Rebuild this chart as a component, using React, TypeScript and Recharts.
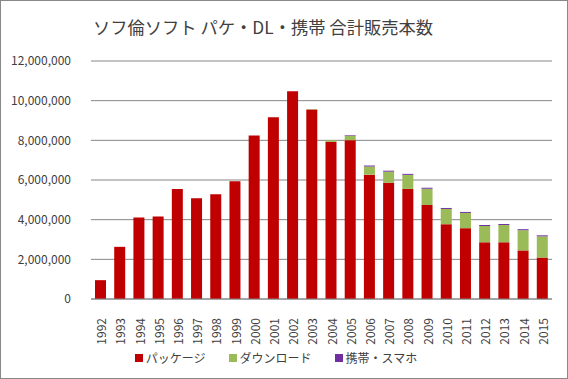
import React from 'react';
import { BarChart, Bar, XAxis, YAxis, CartesianGrid, Legend } from 'recharts';

const years = [
  '1992', '1993', '1994', '1995', '1996', '1997', '1998', '1999', '2000', '2001', '2002', '2003',
  '2004', '2005', '2006', '2007', '2008', '2009', '2010', '2011', '2012', '2013', '2014', '2015',
];
const packageSales = [
  950000, 2630000, 4110000, 4160000, 5540000, 5080000, 5280000, 5940000, 8240000, 9160000, 10480000, 9550000,
  7920000, 8010000, 6270000, 5860000, 5550000, 4740000, 3770000, 3570000, 2860000, 2860000, 2450000, 2090000,
];
const downloadSales = [
  0, 0, 0, 0, 0, 0, 0, 0, 0, 0, 0, 20000,
  80000, 220000, 410000, 560000, 710000, 820000, 770000, 770000, 820000, 870000, 1020000, 1070000,
];
const mobileSales = [
  0, 0, 0, 0, 0, 0, 0, 0, 0, 0, 0, 0,
  0, 30000, 50000, 50000, 50000, 50000, 50000, 50000, 50000, 50000, 50000, 50000,
];
const yTicks = [0, 2000000, 4000000, 6000000, 8000000, 10000000, 12000000];

const series = [
  { key: 'pkg', name: 'パッケージ', color: '#C00000' },
  { key: 'dl', name: 'ダウンロード', color: '#9BBB59' },
  { key: 'mobile', name: '携帯・スマホ', color: '#7030A0' },
];

const data = years.map((y, i) => ({
  year: y,
  pkg: packageSales[i],
  dl: downloadSales[i],
  mobile: mobileSales[i],
}));

const FONT = '"Noto Sans CJK JP", "Noto Sans", sans-serif';
const TEXT = '#404040';

const YearTick = ({ x, y, payload }: any) => (
  <g transform={`translate(${x},${y + 11}) rotate(-90)`}>
    <text textAnchor="end" dominantBaseline="central" fontSize={12} fill={TEXT} fontFamily={FONT}>
      {payload.value}
    </text>
  </g>
);

const LegendBox = () => (
  <div style={{ display: 'flex', justifyContent: 'center', gap: 23, fontFamily: FONT, fontSize: 12, color: TEXT, paddingTop: 2 }}>
    {series.map((s) => (
      <div key={s.key} style={{ display: 'flex', alignItems: 'center', gap: 3 }}>
        <span style={{ width: 8, height: 8, background: s.color, display: 'inline-block' }} />
        <span>{s.name}</span>
      </div>
    ))}
  </div>
);

export default function App() {
  return (
    <div
      style={{
        position: 'absolute', left: 0, top: 0, width: 568, height: 379,
        boxSizing: 'border-box', border: '1px solid #888', background: '#fff',
      }}
    >
      <div
        style={{
          position: 'absolute', left: 0, width: 524, top: 13, textAlign: 'center',
          fontFamily: FONT, fontSize: 17.3, color: TEXT, whiteSpace: 'pre',
        }}
      >
        ソフ倫ソフト パケ・DL・携帯 合計販売本数
      </div>
      <div style={{ position: 'absolute', left: -1, top: -1 }}>
        <BarChart width={568} height={379} data={data} margin={{ top: 61, right: 16, left: 0, bottom: 10 }}>
          <CartesianGrid vertical={false} stroke="#868686" strokeWidth={1} />
          <XAxis
            dataKey="year"
            interval={0}
            tick={<YearTick />}
            tickLine={false}
            axisLine={{ stroke: '#868686' }}
            height={48}
          />
          <YAxis
            width={91}
            domain={[0, 12000000]}
            ticks={yTicks}
            interval={0}
            axisLine={false}
            tickLine={false}
            tickSize={0}
            tickMargin={20}
            tickFormatter={(v: number) => v.toLocaleString('en-US')}
            tick={{ fontSize: 12, fill: TEXT, fontFamily: FONT }}
          />
          <Legend verticalAlign="bottom" height={22} content={<LegendBox />} />
          {series.map((s) => (
            <Bar key={s.key} dataKey={s.key} name={s.name} stackId="a" fill={s.color} barSize={11} isAnimationActive={false} />
          ))}
        </BarChart>
      </div>
    </div>
  );
}
